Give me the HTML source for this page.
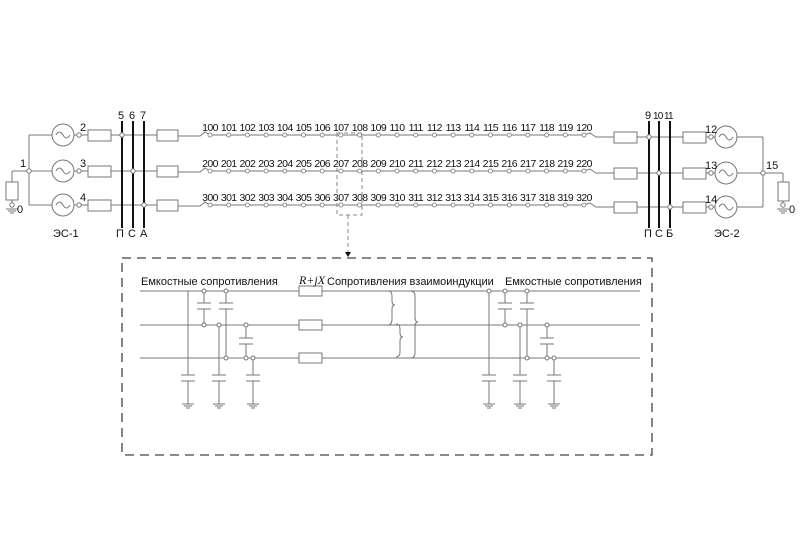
<!DOCTYPE html>
<html><head><meta charset="utf-8"><style>
html,body{margin:0;padding:0;background:#fff;}
svg{display:block;}
text{font-family:"Liberation Sans",sans-serif;fill:#111;}
.n{font-size:10.5px;text-anchor:middle;letter-spacing:-0.6px;}
</style></head><body>
<svg width="800" height="533" viewBox="0 0 800 533" xmlns="http://www.w3.org/2000/svg">
<defs>
<g id="gnd"><line x1="-6" y1="0" x2="6" y2="0"/><line x1="-4" y1="2" x2="4" y2="2"/><line x1="-2" y1="4" x2="2" y2="4"/></g>
<g id="row">
<circle cx="210" cy="0" r="2"/><circle cx="228.7" cy="0" r="2"/><circle cx="247.4" cy="0" r="2"/><circle cx="266.1" cy="0" r="2"/><circle cx="284.8" cy="0" r="2"/><circle cx="303.5" cy="0" r="2"/><circle cx="322.2" cy="0" r="2"/><circle cx="340.9" cy="0" r="2"/><circle cx="359.6" cy="0" r="2"/><circle cx="378.3" cy="0" r="2"/><circle cx="397" cy="0" r="2"/><circle cx="415.7" cy="0" r="2"/><circle cx="434.4" cy="0" r="2"/><circle cx="453.1" cy="0" r="2"/><circle cx="471.8" cy="0" r="2"/><circle cx="490.5" cy="0" r="2"/><circle cx="509.2" cy="0" r="2"/><circle cx="527.9" cy="0" r="2"/><circle cx="546.6" cy="0" r="2"/><circle cx="565.3" cy="0" r="2"/><circle cx="584" cy="0" r="2"/>
</g>
</defs>
<g stroke="#777" stroke-width="1" fill="none">
<rect x="6" y="182" width="12" height="18" fill="#fff"/>
<line x1="12" y1="182" x2="12" y2="171"/><line x1="12" y1="171" x2="29" y2="171"/>
<line x1="12" y1="200" x2="12" y2="203"/>
<line x1="29" y1="135" x2="29" y2="205"/>
<line x1="29" y1="135" x2="52" y2="135"/><line x1="29" y1="171" x2="52" y2="171"/><line x1="29" y1="205" x2="52" y2="205"/>
<circle cx="63" cy="135" r="11" fill="#fff"/><circle cx="63" cy="171" r="11" fill="#fff"/><circle cx="63" cy="205" r="11" fill="#fff"/>
<path d="M56 135 q3.5 -6 7 0 t7 0"/><path d="M56 171 q3.5 -6 7 0 t7 0"/><path d="M56 205 q3.5 -6 7 0 t7 0"/>
<line x1="74" y1="135" x2="88" y2="135"/><line x1="74" y1="171" x2="88" y2="171"/><line x1="74" y1="205" x2="88" y2="205"/>
<rect x="88" y="130" width="23" height="11" fill="#fff"/><rect x="88" y="166" width="23" height="11" fill="#fff"/><rect x="88" y="200" width="23" height="11" fill="#fff"/>
<line x1="111" y1="135" x2="157" y2="135"/><line x1="111" y1="171" x2="157" y2="171"/><line x1="111" y1="205" x2="157" y2="205"/>
<rect x="157" y="130" width="21" height="11" fill="#fff"/><rect x="157" y="166" width="21" height="11" fill="#fff"/><rect x="157" y="200" width="21" height="11" fill="#fff"/>
<path d="M178 136 H200 L205 132 L210 135"/><path d="M178 172 H200 L205 168 L210 171"/><path d="M178 206 H200 L205 202 L210 205"/>
<line x1="210" y1="135" x2="584" y2="135"/><line x1="210" y1="171" x2="584" y2="171"/><line x1="210" y1="205" x2="584" y2="205"/>
<path d="M584 135 L590 133 L596 137 H614"/><path d="M584 171 L590 169 L596 173 H614"/><path d="M584 205 L590 203 L596 207 H614"/>
<rect x="614" y="132" width="23" height="11" fill="#fff"/><rect x="614" y="168" width="23" height="11" fill="#fff"/><rect x="614" y="202" width="23" height="11" fill="#fff"/>
<line x1="637" y1="137" x2="683" y2="137"/><line x1="637" y1="173" x2="683" y2="173"/><line x1="637" y1="207" x2="683" y2="207"/>
<rect x="683" y="132" width="23" height="11" fill="#fff"/><rect x="683" y="168" width="23" height="11" fill="#fff"/><rect x="683" y="202" width="23" height="11" fill="#fff"/>
<line x1="706" y1="137" x2="715" y2="137"/><line x1="706" y1="173" x2="715" y2="173"/><line x1="706" y1="207" x2="715" y2="207"/>
<circle cx="726" cy="137" r="11" fill="#fff"/><circle cx="726" cy="173" r="11" fill="#fff"/><circle cx="726" cy="207" r="11" fill="#fff"/>
<path d="M719 137 q3.5 -6 7 0 t7 0"/><path d="M719 173 q3.5 -6 7 0 t7 0"/><path d="M719 207 q3.5 -6 7 0 t7 0"/>
<line x1="737" y1="137" x2="763" y2="137"/><line x1="737" y1="173" x2="763" y2="173"/><line x1="737" y1="207" x2="763" y2="207"/>
<line x1="763" y1="137" x2="763" y2="207"/>
<line x1="763" y1="173" x2="783" y2="173"/><line x1="783" y1="173" x2="783" y2="182"/>
<rect x="778" y="182" width="11" height="19" fill="#fff"/><line x1="783" y1="201" x2="783" y2="205"/>
</g>
<g stroke="#777"><use href="#gnd" x="12" y="209"/><use href="#gnd" x="783" y="209"/></g>
<g stroke="#111" stroke-width="2">
<line x1="122" y1="121" x2="122" y2="228"/><line x1="133" y1="121" x2="133" y2="228"/><line x1="144" y1="121" x2="144" y2="228"/>
<line x1="649" y1="121" x2="649" y2="228"/><line x1="659" y1="121" x2="659" y2="228"/><line x1="670" y1="121" x2="670" y2="228"/>
</g>
<g stroke="#777" fill="#fff" stroke-width="1">
<circle cx="12" cy="205" r="2.2"/><circle cx="29" cy="171" r="2.2"/>
<circle cx="79" cy="135" r="2.2"/><circle cx="79" cy="171" r="2.2"/><circle cx="79" cy="205" r="2.2"/>
<circle cx="122" cy="135" r="2.2"/><circle cx="133" cy="171" r="2.2"/><circle cx="144" cy="205" r="2.2"/>
<circle cx="649" cy="137" r="2.2"/><circle cx="659" cy="173" r="2.2"/><circle cx="670" cy="207" r="2.2"/>
<circle cx="711" cy="137" r="2.2"/><circle cx="711" cy="173" r="2.2"/><circle cx="711" cy="207" r="2.2"/>
<circle cx="763" cy="173" r="2.2"/><circle cx="783" cy="205" r="2.2"/>
</g>
<g stroke="#777" fill="#fff" stroke-width="0.8">
<use href="#row" y="135"/><use href="#row" y="171"/><use href="#row" y="205"/>
</g>
<g style="font-size:11px">
<text x="17" y="213">0</text><text x="20" y="167">1</text>
<text x="80" y="131">2</text><text x="80" y="167">3</text><text x="80" y="201">4</text>
<text x="118" y="119">5</text><text x="129" y="119">6</text><text x="140" y="119">7</text>
<text x="116" y="237">П</text><text x="128" y="237">С</text><text x="140" y="237">А</text>
<text x="53" y="237">ЭС-1</text>
<text x="645" y="119">9</text><text x="653" y="119" style="font-size:10px;letter-spacing:-0.8px">10</text><text x="664" y="119" style="font-size:10px;letter-spacing:-0.8px">11</text>
<text x="644" y="237">П</text><text x="655" y="237">С</text><text x="666" y="237">Б</text>
<text x="705" y="133">12</text><text x="705" y="169">13</text><text x="705" y="203">14</text>
<text x="766" y="169">15</text><text x="789" y="213">0</text>
<text x="714" y="237">ЭС-2</text>
</g>
<g>
<text class="n" x="210" y="131">100</text><text class="n" x="228.7" y="131">101</text><text class="n" x="247.4" y="131">102</text><text class="n" x="266.1" y="131">103</text><text class="n" x="284.8" y="131">104</text><text class="n" x="303.5" y="131">105</text><text class="n" x="322.2" y="131">106</text><text class="n" x="340.9" y="131">107</text><text class="n" x="359.6" y="131">108</text><text class="n" x="378.3" y="131">109</text><text class="n" x="397" y="131">110</text><text class="n" x="415.7" y="131">111</text><text class="n" x="434.4" y="131">112</text><text class="n" x="453.1" y="131">113</text><text class="n" x="471.8" y="131">114</text><text class="n" x="490.5" y="131">115</text><text class="n" x="509.2" y="131">116</text><text class="n" x="527.9" y="131">117</text><text class="n" x="546.6" y="131">118</text><text class="n" x="565.3" y="131">119</text><text class="n" x="584" y="131">120</text>
<text class="n" x="210" y="167">200</text><text class="n" x="228.7" y="167">201</text><text class="n" x="247.4" y="167">202</text><text class="n" x="266.1" y="167">203</text><text class="n" x="284.8" y="167">204</text><text class="n" x="303.5" y="167">205</text><text class="n" x="322.2" y="167">206</text><text class="n" x="340.9" y="167">207</text><text class="n" x="359.6" y="167">208</text><text class="n" x="378.3" y="167">209</text><text class="n" x="397" y="167">210</text><text class="n" x="415.7" y="167">211</text><text class="n" x="434.4" y="167">212</text><text class="n" x="453.1" y="167">213</text><text class="n" x="471.8" y="167">214</text><text class="n" x="490.5" y="167">215</text><text class="n" x="509.2" y="167">216</text><text class="n" x="527.9" y="167">217</text><text class="n" x="546.6" y="167">218</text><text class="n" x="565.3" y="167">219</text><text class="n" x="584" y="167">220</text>
<text class="n" x="210" y="201">300</text><text class="n" x="228.7" y="201">301</text><text class="n" x="247.4" y="201">302</text><text class="n" x="266.1" y="201">303</text><text class="n" x="284.8" y="201">304</text><text class="n" x="303.5" y="201">305</text><text class="n" x="322.2" y="201">306</text><text class="n" x="340.9" y="201">307</text><text class="n" x="359.6" y="201">308</text><text class="n" x="378.3" y="201">309</text><text class="n" x="397" y="201">310</text><text class="n" x="415.7" y="201">311</text><text class="n" x="434.4" y="201">312</text><text class="n" x="453.1" y="201">313</text><text class="n" x="471.8" y="201">314</text><text class="n" x="490.5" y="201">315</text><text class="n" x="509.2" y="201">316</text><text class="n" x="527.9" y="201">317</text><text class="n" x="546.6" y="201">318</text><text class="n" x="565.3" y="201">319</text><text class="n" x="584" y="201">320</text>
</g>
<g fill="none" stroke="#888" stroke-width="1" stroke-dasharray="4,3">
<rect x="337" y="133" width="25" height="82"/>
<line x1="348" y1="215" x2="348" y2="252"/>
</g>
<path d="M345 252 L351 252 L348 257 Z" fill="#111"/>
<rect x="122" y="258" width="530" height="197" fill="none" stroke="#444" stroke-width="1.3" stroke-dasharray="9,6"/>
<g stroke="#777" stroke-width="1" fill="none">
<line x1="140" y1="291" x2="640" y2="291"/><line x1="140" y1="325" x2="640" y2="325"/><line x1="140" y1="358" x2="640" y2="358"/>
<rect x="299" y="286" width="23" height="10" fill="#fff"/><rect x="299" y="320" width="23" height="10" fill="#fff"/><rect x="299" y="353" width="23" height="10" fill="#fff"/>
<g id="caps">
<line x1="188" y1="291" x2="188" y2="375"/><line x1="181" y1="375" x2="195" y2="375"/><line x1="181" y1="381" x2="195" y2="381"/><line x1="188" y1="381" x2="188" y2="404"/>
<line x1="204" y1="291" x2="204" y2="303"/><line x1="197" y1="303" x2="211" y2="303"/><line x1="197" y1="309" x2="211" y2="309"/><line x1="204" y1="309" x2="204" y2="325"/>
<line x1="219" y1="325" x2="219" y2="375"/><line x1="212" y1="375" x2="226" y2="375"/><line x1="212" y1="381" x2="226" y2="381"/><line x1="219" y1="381" x2="219" y2="404"/>
<line x1="226" y1="291" x2="226" y2="303"/><line x1="219" y1="303" x2="233" y2="303"/><line x1="219" y1="309" x2="233" y2="309"/><line x1="226" y1="309" x2="226" y2="358"/>
<line x1="246" y1="325" x2="246" y2="338"/><line x1="239" y1="338" x2="253" y2="338"/><line x1="239" y1="344" x2="253" y2="344"/><line x1="246" y1="344" x2="246" y2="358"/>
<line x1="253" y1="358" x2="253" y2="375"/><line x1="246" y1="375" x2="260" y2="375"/><line x1="246" y1="381" x2="260" y2="381"/><line x1="253" y1="381" x2="253" y2="404"/>
<use href="#gnd" x="188" y="404"/><use href="#gnd" x="219" y="404"/><use href="#gnd" x="253" y="404"/>
<circle cx="204" cy="291" r="2" fill="#fff"/><circle cx="226" cy="291" r="2" fill="#fff"/><circle cx="204" cy="325" r="2" fill="#fff"/><circle cx="219" cy="325" r="2" fill="#fff"/><circle cx="246" cy="325" r="2" fill="#fff"/><circle cx="226" cy="358" r="2" fill="#fff"/><circle cx="246" cy="358" r="2" fill="#fff"/><circle cx="253" cy="358" r="2" fill="#fff"/>
</g>
<use href="#caps" x="301"/>
<circle cx="489" cy="291" r="2" fill="#fff"/>
<path d="M388 291 q4 0 4 5 v5 q0 4 3 4 q-3 0 -3 4 v10 q0 6 -4 6"/>
<path d="M396 324 q4 0 4 5 v4 q0 4 3 4 q-3 0 -3 4 v11 q0 5 -4 5"/>
<path d="M410 291 q5 0 5 5 v21 q0 5 3 5 q-3 0 -3 5 v26 q0 5 -5 5"/>
</g>
<g style="font-size:11px">
<text x="141" y="285">Емкостные сопротивления</text>
<text x="327" y="285">Сопротивления взаимоиндукции</text>
<text x="505" y="285">Емкостные сопротивления</text>
<text x="299" y="284" style="font-family:'Liberation Serif',serif;font-style:italic;font-size:12px">R+jX</text>
</g>
</svg>
</body></html>
